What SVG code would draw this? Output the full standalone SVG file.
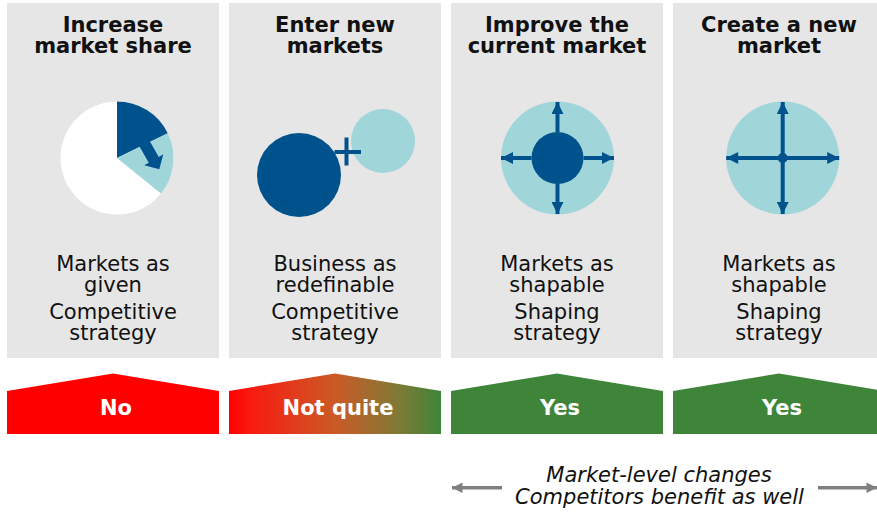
<svg xmlns="http://www.w3.org/2000/svg" width="877" height="514" viewBox="0 0 877 514">
<style>
.panel{fill:#E6E6E6}
.title{font-family:"DejaVu Sans",Verdana,sans-serif;font-weight:bold;font-size:21px;fill:#111;text-anchor:middle}
.body{font-family:"DejaVu Sans",Verdana,sans-serif;font-size:21px;fill:#111;text-anchor:middle}
.ban{font-family:"DejaVu Sans",Verdana,sans-serif;font-weight:bold;font-size:21px;fill:#fff;text-anchor:middle}
.note{font-family:"DejaVu Sans",Verdana,sans-serif;font-style:italic;font-size:21px;fill:#111;text-anchor:middle}
.dark{fill:#00528C}
.light{fill:#A0D5DA}
.ar{stroke:#00528C;stroke-width:4;fill:none}
.gr{stroke:#808080;stroke-width:3.5;fill:none}
</style>
<defs>
<linearGradient id="rg" x1="0" y1="0" x2="1" y2="0">
<stop offset="0" stop-color="#FF0000"/>
<stop offset="0.1" stop-color="#F91A10"/>
<stop offset="0.5" stop-color="#CB5A26"/>
<stop offset="0.8" stop-color="#7E7A36"/>
<stop offset="1" stop-color="#3E8539"/>
</linearGradient>
<marker id="ah" viewBox="0 0 10 10" refX="10" refY="5" markerWidth="3.2" markerHeight="3" orient="auto" markerUnits="strokeWidth">
<path d="M0,0 L10,5 L0,10 Z" fill="#00528C"/>
</marker>
<marker id="gh" viewBox="0 0 10 10" refX="10" refY="5" markerWidth="3.2" markerHeight="3" orient="auto" markerUnits="strokeWidth">
<path d="M0,0 L10,5 L0,10 Z" fill="#808080"/>
</marker>
</defs>

<g id="node-increase-share">
<rect class="panel" x="7" y="3" width="212" height="355"/>
<text class="title" x="113" y="31.5">Increase</text>
<text class="title" x="113" y="53">market share</text>
<circle cx="117" cy="158" r="56.5" fill="#fff"/>
<path class="dark" d="M117,158 L117,101.5 A56.5,56.5 0 0 1 167.8,133.2 Z"/>
<path class="light" d="M117,158 L167.8,133.2 A56.5,56.5 0 0 1 160.9,193.6 Z"/>
<polygon class="dark" points="137.8,143.6 147.8,137.8 158.8,156.9 163.3,154.3 159.3,169.3 144.3,165.3 148.8,162.7"/>
<text class="body" x="113" y="271">Markets as</text>
<text class="body" x="113" y="291.5">given</text>
<text class="body" x="113" y="319">Competitive</text>
<text class="body" x="113" y="340">strategy</text>
<polygon points="7,391 113,373.5 219,391 219,434 7,434" fill="#FF0000"/>
<text class="ban" x="116" y="415">No</text>
</g>

<g id="node-enter-new">
<rect class="panel" x="229" y="3" width="212" height="355"/>
<text class="title" x="335" y="31.5">Enter new</text>
<text class="title" x="335" y="53">markets</text>
<circle class="dark" cx="299" cy="175" r="42"/>
<circle class="light" cx="383" cy="141" r="32"/>
<path d="M346.5,137.5 V165.5 M334.5,152 H361" stroke="#00528C" stroke-width="4" fill="none"/>
<text class="body" x="335" y="271">Business as</text>
<text class="body" x="335" y="291.5">redefinable</text>
<text class="body" x="335" y="319">Competitive</text>
<text class="body" x="335" y="340">strategy</text>
<polygon points="229,391 335,373.5 441,391 441,434 229,434" fill="url(#rg)"/>
<text class="ban" x="338" y="415">Not quite</text>
</g>

<g id="node-improve-current">
<rect class="panel" x="451" y="3" width="212" height="355"/>
<text class="title" x="557" y="31.5">Improve the</text>
<text class="title" x="557" y="53">current market</text>
<circle class="light" cx="557.5" cy="158" r="56.5"/>
<circle class="dark" cx="557.5" cy="158" r="26"/>
<line class="ar" x1="557.5" y1="132" x2="557.5" y2="102" marker-end="url(#ah)"/>
<line class="ar" x1="557.5" y1="184" x2="557.5" y2="214" marker-end="url(#ah)"/>
<line class="ar" x1="531.5" y1="158" x2="501" y2="158" marker-end="url(#ah)"/>
<line class="ar" x1="583.5" y1="158" x2="614" y2="158" marker-end="url(#ah)"/>
<text class="body" x="557" y="271">Markets as</text>
<text class="body" x="557" y="291.5">shapable</text>
<text class="body" x="557" y="319">Shaping</text>
<text class="body" x="557" y="340">strategy</text>
<polygon points="451,391 557,373.5 663,391 663,434 451,434" fill="#3E8539"/>
<text class="ban" x="560" y="415">Yes</text>
</g>

<g id="node-create-new">
<rect class="panel" x="673" y="3" width="212" height="355"/>
<text class="title" x="779" y="31.5">Create a new</text>
<text class="title" x="779" y="53">market</text>
<circle class="light" cx="782.7" cy="158" r="56.5"/>
<line class="ar" x1="782.7" y1="158" x2="782.7" y2="102" marker-end="url(#ah)"/>
<line class="ar" x1="782.7" y1="158" x2="782.7" y2="214" marker-end="url(#ah)"/>
<line class="ar" x1="782.7" y1="158" x2="726.2" y2="158" marker-end="url(#ah)"/>
<line class="ar" x1="782.7" y1="158" x2="839.2" y2="158" marker-end="url(#ah)"/>
<circle class="dark" cx="782.7" cy="158" r="5"/>
<text class="body" x="779" y="271">Markets as</text>
<text class="body" x="779" y="291.5">shapable</text>
<text class="body" x="779" y="319">Shaping</text>
<text class="body" x="779" y="340">strategy</text>
<polygon points="673,391 779,373.5 885,391 885,434 673,434" fill="#3E8539"/>
<text class="ban" x="782" y="415">Yes</text>
</g>

<g id="node-note">
<text class="note" x="659" y="482">Market-level changes</text>
<text class="note" x="659.5" y="504">Competitors benefit as well</text>
</g>

<g id="connectors">
<line class="gr" x1="502" y1="487.7" x2="452" y2="487.7" marker-end="url(#gh)"/>
<line class="gr" x1="818" y1="487.7" x2="877" y2="487.7" marker-end="url(#gh)"/>
</g>
</svg>
